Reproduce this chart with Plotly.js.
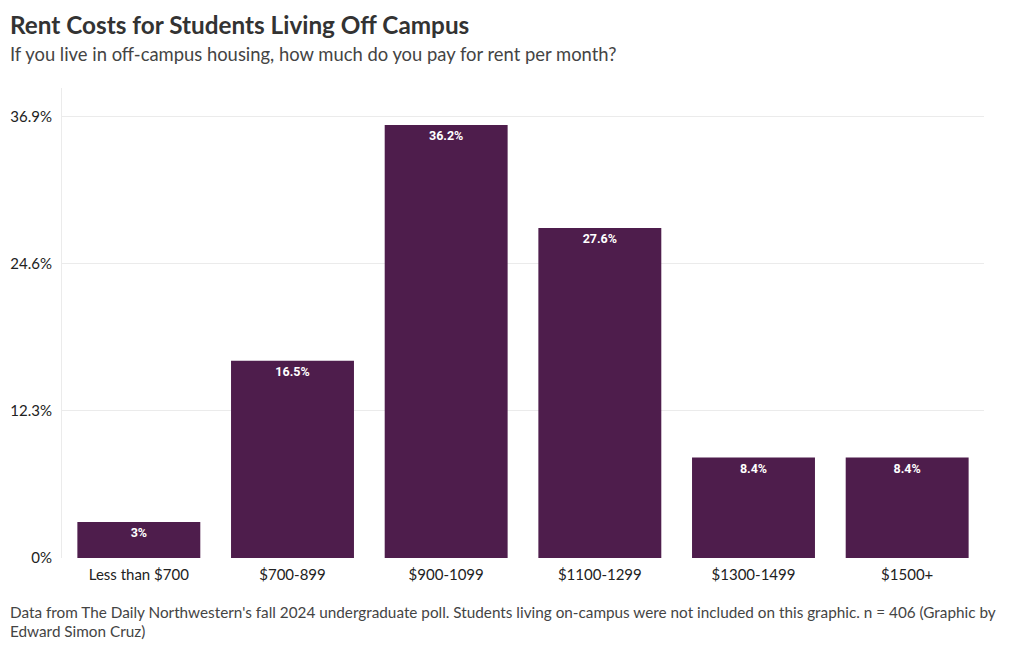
<!DOCTYPE html>
<html>
<head>
<meta charset="utf-8">
<script src="https://cdn.plot.ly/plotly-3.0.1.min.js"></script>
<style>
html,body{margin:0;padding:0;background:#fff;}
#chart{width:1020px;height:650px;}
</style>
</head>
<body>
<div id="chart"></div>
<script>
const categories = ["Less than $700", "$700-899", "$900-1099", "$1100-1299", "$1300-1499", "$1500+"];
const values = [3, 16.5, 36.2, 27.6, 8.4, 8.4];
const tickVals = [0, 12.3, 24.6, 36.9];
const tickText = ["0%", "12.3%", "24.6%", "36.9%"];
const labels = values.map(v => v + "%");

const FONT = "Lato, 'Open Sans', sans-serif";

const trace = {
  type: "bar",
  x: categories,
  y: values,
  text: labels,
  textposition: "inside",
  insidetextanchor: "end",
  textangle: 0,
  textfont: {family: "Roboto, sans-serif", size: 12.5, color: "#ffffff", weight: "bold"},
  marker: {color: "#4e1d4c"},
  hoverinfo: "x+y",
  cliponaxis: false
};

const layout = {
  width: 1020,
  height: 650,
  margin: {l: 62, r: 36, t: 88, b: 92},
  paper_bgcolor: "#ffffff",
  plot_bgcolor: "#ffffff",
  font: {family: FONT, color: "#222"},
  bargap: 0.2,
  showlegend: false,
  xaxis: {
    type: "category",
    tickfont: {family: FONT, size: 15, color: "#222"},
    showgrid: false,
    zeroline: false,
    showline: false,
    ticks: "",
    ticklen: 0,
    ticklabelstandoff: 6
  },
  yaxis: {
    range: [0, 39.3],
    tickvals: tickVals,
    ticktext: tickText,
    tickfont: {family: FONT, size: 15, color: "#222"},
    showgrid: true,
    gridcolor: "#ebebeb",
    gridwidth: 1,
    zeroline: false,
    showline: true,
    linecolor: "#ebebeb",
    linewidth: 1,
    ticks: "",
    ticklabelstandoff: 6,
    automargin: false
  },
  annotations: [
    {xref: "paper", yref: "paper", x: 0, xshift: -54, y: 1, yshift: 64, xanchor: "left", yanchor: "middle",
     text: "<b>Rent Costs for Students Living Off Campus</b>", showarrow: false,
     font: {family: FONT, size: 24.3, color: "#333333"}},
    {xref: "paper", yref: "paper", x: 0, xshift: -54, y: 1, yshift: 34, xanchor: "left", yanchor: "middle",
     text: "If you live in off-campus housing, how much do you pay for rent per month?", showarrow: false,
     font: {family: FONT, size: 18.4, color: "#444444"}},
    {xref: "paper", yref: "paper", x: 0, xshift: -54, y: 0, yshift: -54, xanchor: "left", yanchor: "middle",
     text: "Data from The Daily Northwestern's fall 2024 undergraduate poll. Students living on-campus were not included on this graphic. n = 406 (Graphic by", showarrow: false,
     font: {family: FONT, size: 15.3, color: "#444444"}},
    {xref: "paper", yref: "paper", x: 0, xshift: -54, y: 0, yshift: -73, xanchor: "left", yanchor: "middle",
     text: "Edward Simon Cruz)", showarrow: false,
     font: {family: FONT, size: 15.3, color: "#444444"}}
  ]
};

Plotly.newPlot("chart", [trace], layout, {displayModeBar: false, staticPlot: true});
</script>
</body>
</html>
